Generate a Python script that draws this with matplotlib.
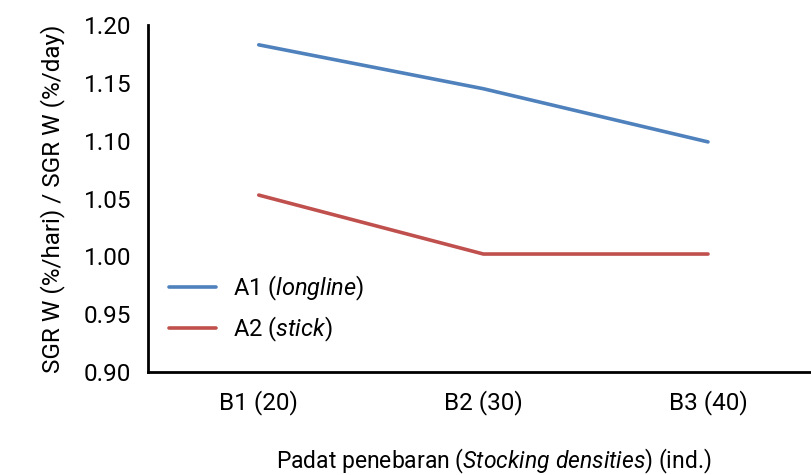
import numpy as np
import matplotlib.pyplot as plt

plt.rcParams['font.family'] = ['Roboto', 'DejaVu Sans']
plt.rcParams['mathtext.fontset'] = 'custom'
plt.rcParams['mathtext.rm'] = 'Roboto'
plt.rcParams['mathtext.it'] = 'Roboto:italic'

# Data
categories = ['B1 (20)', 'B2 (30)', 'B3 (40)']
a1_longline = [1.183, 1.145, 1.099]
a2_stick = [1.053, 1.002, 1.002]
yticks = [0.90, 0.95, 1.00, 1.05, 1.10, 1.15, 1.20]

fig = plt.figure(figsize=(8.12, 4.75), dpi=100)
ax = fig.add_axes([0.182, 0.217, 0.818, 0.730])

x = np.arange(len(categories))
ax.plot(x, a1_longline, color='#4F81BD', lw=2.6, solid_capstyle='round',
        label=r'A1 ($\it{longline}$)')
ax.plot(x, a2_stick, color='#C0504D', lw=2.6, solid_capstyle='round',
        label=r'A2 ($\it{stick}$)')

ax.set_xlim(-0.494, 2.463)
ax.set_ylim(0.90, 1.20)
ax.set_xticks(x)
ax.set_xticklabels(categories)
ax.set_yticks(yticks)
ax.set_yticklabels(['%.2f' % v for v in yticks])
ax.tick_params(length=0, labelsize=17.5, pad=12)
ax.tick_params(axis='x', pad=13)

for s in ['top', 'right']:
    ax.spines[s].set_visible(False)
for s in ['left', 'bottom']:
    ax.spines[s].set_linewidth(2)
    ax.spines[s].set_color('black')

ax.set_ylabel('SGR W (%/hari) / SGR W (%/day)', fontsize=17.5, labelpad=13)
fig.text(0.608, 0.014, r'Padat penebaran ($\it{Stocking\ densities}$) (ind.)',
         fontsize=16.5, ha='center', va='baseline')

ax.legend(loc='lower left', bbox_to_anchor=(0.0, 0.02), frameon=False,
          fontsize=17, handlelength=2.0, handletextpad=0.7, labelspacing=0.5)

fig.savefig('out.png', dpi=100)
